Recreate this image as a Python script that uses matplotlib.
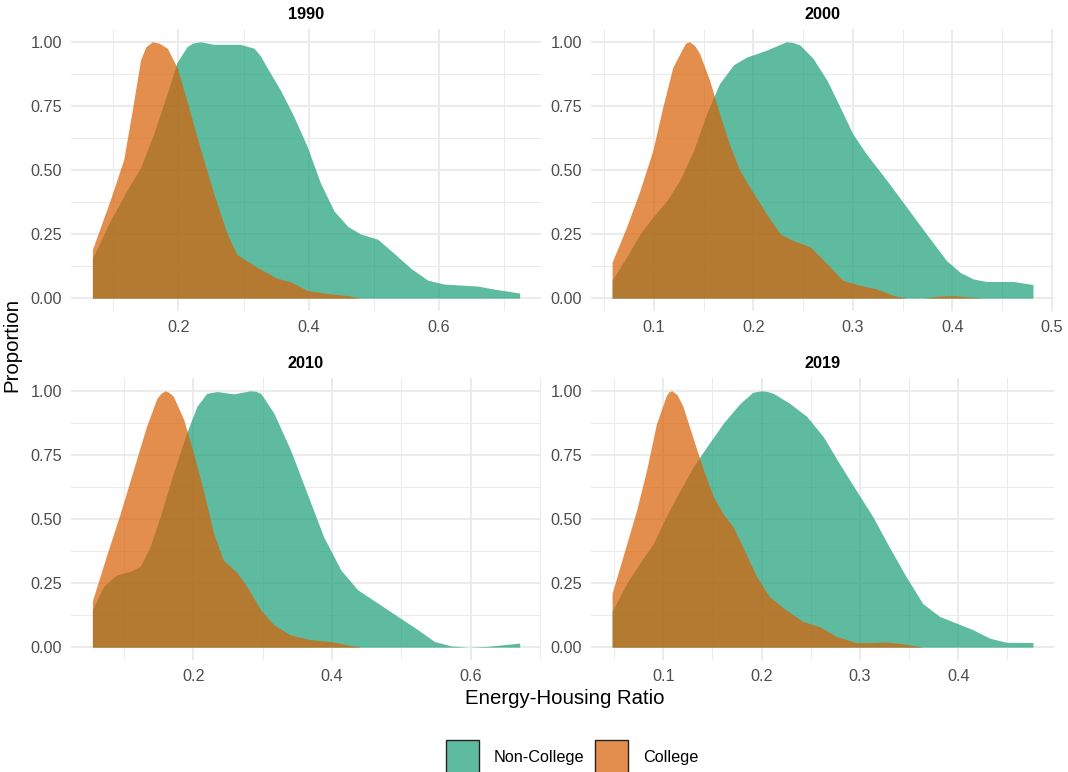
import numpy as np
import matplotlib
matplotlib.use('Agg')
import matplotlib.pyplot as plt
from matplotlib.patches import Patch
from matplotlib.colors import to_rgba

plt.rcParams['font.family'] = ['Liberation Sans', 'DejaVu Sans']

# ---- data (scaled density, max = 1) ----
years = ['1990', '2000', '2010', '2019']
groups = ['Non-College', 'College']

nc_1990_x = [0.068, 0.095, 0.121, 0.142, 0.162, 0.183, 0.198, 0.213, 0.222, 0.234, 0.254, 0.275, 0.295,
             0.316, 0.326, 0.336, 0.357, 0.377, 0.398, 0.418, 0.439, 0.460, 0.480, 0.506, 0.531, 0.557,
             0.583, 0.608, 0.660, 0.685, 0.724]
nc_1990_y = [0.155, 0.30, 0.42, 0.51, 0.64, 0.80, 0.92, 0.98, 0.995, 1.0, 0.99, 0.99, 0.99,
             0.975, 0.945, 0.90, 0.81, 0.71, 0.59, 0.45, 0.34, 0.28, 0.25, 0.23, 0.175, 0.116,
             0.07, 0.055, 0.047, 0.035, 0.02]
col_1990_x = [0.068, 0.095, 0.116, 0.129, 0.142, 0.150, 0.160, 0.170, 0.183, 0.198, 0.213, 0.234, 0.254,
              0.275, 0.290, 0.321, 0.352, 0.372, 0.398, 0.429, 0.460, 0.480, 0.724]
col_1990_y = [0.19, 0.38, 0.54, 0.73, 0.93, 0.98, 1.0, 0.995, 0.975, 0.90, 0.77, 0.58, 0.41,
              0.25, 0.17, 0.12, 0.077, 0.064, 0.03, 0.018, 0.01, 0.0, 0.0]

nc_2000_x = [0.058, 0.0725, 0.086, 0.099, 0.113, 0.126, 0.140, 0.153, 0.166, 0.180, 0.193, 0.213,
             0.233, 0.240, 0.247, 0.260, 0.274, 0.287, 0.300, 0.314, 0.334, 0.354, 0.374, 0.394,
             0.408, 0.421, 0.434, 0.461, 0.481]
nc_2000_y = [0.07, 0.16, 0.25, 0.316, 0.38, 0.46, 0.577, 0.72, 0.837, 0.91, 0.94, 0.967,
             1.0, 0.997, 0.987, 0.935, 0.85, 0.746, 0.64, 0.56, 0.46, 0.355, 0.25, 0.147,
             0.10, 0.075, 0.065, 0.065, 0.053]
col_2000_x = [0.058, 0.0725, 0.086, 0.099, 0.109, 0.119, 0.129, 0.132, 0.136, 0.141, 0.146, 0.156,
              0.166, 0.176, 0.186, 0.200, 0.213, 0.227, 0.240, 0.257, 0.274, 0.290, 0.307, 0.324,
              0.341, 0.354, 0.371, 0.387, 0.401, 0.418, 0.431, 0.481]
col_2000_y = [0.14, 0.277, 0.42, 0.577, 0.746, 0.90, 0.975, 0.995, 1.0, 0.985, 0.954, 0.85,
              0.72, 0.60, 0.50, 0.41, 0.33, 0.25, 0.225, 0.20, 0.134, 0.069, 0.05, 0.036,
              0.01, 0.0, 0.0, 0.008, 0.01, 0.004, 0.0, 0.0]

nc_2010_x = [0.054, 0.070, 0.089, 0.108, 0.123, 0.137, 0.152, 0.171, 0.190, 0.205, 0.219, 0.234,
             0.258, 0.282, 0.290, 0.297, 0.316, 0.340, 0.364, 0.388, 0.413, 0.437, 0.466, 0.495,
             0.524, 0.548, 0.572, 0.596, 0.625, 0.671]
nc_2010_y = [0.146, 0.237, 0.282, 0.295, 0.315, 0.39, 0.51, 0.68, 0.835, 0.94, 0.99, 0.997,
             0.988, 1.0, 0.998, 0.99, 0.913, 0.77, 0.60, 0.43, 0.30, 0.224, 0.172, 0.12,
             0.068, 0.022, 0.005, 0.0, 0.003, 0.016]
col_2010_x = [0.054, 0.074, 0.094, 0.113, 0.132, 0.147, 0.153, 0.159, 0.165, 0.171, 0.186, 0.200,
              0.214, 0.229, 0.243, 0.263, 0.277, 0.297, 0.316, 0.340, 0.369, 0.398, 0.422, 0.442,
              0.671]
col_2010_y = [0.18, 0.354, 0.52, 0.69, 0.86, 0.97, 0.99, 1.0, 0.993, 0.978, 0.887, 0.757,
              0.614, 0.445, 0.34, 0.29, 0.237, 0.146, 0.087, 0.048, 0.029, 0.022, 0.009, 0.0,
              0.0]

nc_2019_x = [0.048, 0.063, 0.076, 0.090, 0.103, 0.117, 0.130, 0.144, 0.161, 0.178, 0.191, 0.200,
             0.206, 0.212, 0.229, 0.246, 0.263, 0.279, 0.296, 0.313, 0.330, 0.347, 0.364, 0.381,
             0.398, 0.415, 0.432, 0.449, 0.476]
nc_2019_y = [0.14, 0.25, 0.327, 0.405, 0.51, 0.61, 0.70, 0.78, 0.873, 0.95, 0.994, 1.0,
             0.997, 0.99, 0.95, 0.90, 0.82, 0.717, 0.613, 0.51, 0.39, 0.275, 0.17, 0.12,
             0.094, 0.068, 0.035, 0.019, 0.018]
col_2019_x = [0.048, 0.059, 0.073, 0.083, 0.093, 0.103, 0.106, 0.109, 0.114, 0.120, 0.130, 0.141,
              0.151, 0.161, 0.171, 0.181, 0.195, 0.208, 0.225, 0.242, 0.259, 0.276, 0.296, 0.313,
              0.327, 0.344, 0.364, 0.476]
col_2019_y = [0.21, 0.353, 0.535, 0.69, 0.87, 0.98, 0.997, 1.0, 0.985, 0.94, 0.82, 0.69,
              0.587, 0.52, 0.47, 0.39, 0.275, 0.197, 0.145, 0.10, 0.08, 0.042, 0.018, 0.018,
              0.02, 0.013, 0.0, 0.0]

xticks_major = {'1990': [0.2, 0.4, 0.6], '2000': [0.1, 0.2, 0.3, 0.4, 0.5],
                '2010': [0.2, 0.4, 0.6], '2019': [0.1, 0.2, 0.3, 0.4]}
xticks_minor = {'1990': [0.1, 0.3, 0.5, 0.7], '2000': [0.05, 0.15, 0.25, 0.35, 0.45],
                '2010': [0.1, 0.3, 0.5, 0.7], '2019': [0.05, 0.15, 0.25, 0.35, 0.45]}
yticks = [0.0, 0.25, 0.5, 0.75, 1.0]
ytick_labels = ['0.00', '0.25', '0.50', '0.75', '1.00']

series = {
    '1990': ((nc_1990_x, nc_1990_y), (col_1990_x, col_1990_y)),
    '2000': ((nc_2000_x, nc_2000_y), (col_2000_x, col_2000_y)),
    '2010': ((nc_2010_x, nc_2010_y), (col_2010_x, col_2010_y)),
    '2019': ((nc_2019_x, nc_2019_y), (col_2019_x, col_2019_y)),
}

teal = '#1b9e77'
orange = '#d95f02'
alpha = 0.7
grid_col = '#EBEBEB'
tick_col = '#4D4D4D'

fig = plt.figure(figsize=(10.68, 7.72), dpi=100)

# panel rectangles (figure fractions)
rects = {
    '1990': [0.0665, 0.5972, 0.4401, 0.3653],
    '2000': [0.5534, 0.5972, 0.4335, 0.3653],
    '2010': [0.0665, 0.1451, 0.4401, 0.3653],
    '2019': [0.5534, 0.1451, 0.4335, 0.3653],
}

for yr in years:
    ax = fig.add_axes(rects[yr])
    (ncx, ncy), (cx, cy) = series[yr]
    ax.fill_between(ncx, 0, ncy, color=teal, alpha=alpha, lw=0, zorder=3)
    ax.fill_between(cx, 0, cy, color=orange, alpha=alpha, lw=0, zorder=4)

    lo = min(min(ncx), min(cx))
    hi = max(max(ncx), max(cx))
    pad = (hi - lo) * 0.05
    ax.set_xlim(lo - pad, hi + pad)
    ax.set_ylim(-0.05, 1.05)

    ax.set_xticks(xticks_major[yr])
    ax.set_xticklabels([f'{t:g}' for t in xticks_major[yr]])
    ax.set_xticks(xticks_minor[yr], minor=True)
    ax.set_yticks(yticks)
    ax.set_yticklabels(ytick_labels)
    ax.set_yticks([0.125, 0.375, 0.625, 0.875], minor=True)

    ax.grid(which='major', color=grid_col, lw=1.4, zorder=0)
    ax.grid(which='minor', color=grid_col, lw=0.7, zorder=0)
    ax.set_axisbelow(True)
    for s in ax.spines.values():
        s.set_visible(False)
    ax.tick_params(which='both', length=0, labelsize=11.7, labelcolor=tick_col, pad=6.5)
    ax.set_title(yr, fontsize=11.7, fontweight='bold', pad=7)

fig.text(0.529, 1 - 699 / 772, 'Energy-Housing Ratio', ha='center', va='center', fontsize=14.7)
fig.text(12 / 1068, 1 - 345 / 772, 'Proportion', ha='center', va='center', rotation=90, fontsize=14.7)

handles = [Patch(facecolor=to_rgba(teal, alpha), edgecolor='#222222', lw=1.0, label='Non-College'),
           Patch(facecolor=to_rgba(orange, alpha), edgecolor='#222222', lw=1.0, label='College')]
fig.legend(handles=handles, loc='upper center', bbox_to_anchor=(0.536, 1 - 740 / 772),
           ncol=2, frameon=False, fontsize=11.7, handlelength=2.03, handleheight=2.84,
           handletextpad=0.92, columnspacing=0.66, borderpad=0, borderaxespad=0)

plt.savefig('out.png', dpi=100)
